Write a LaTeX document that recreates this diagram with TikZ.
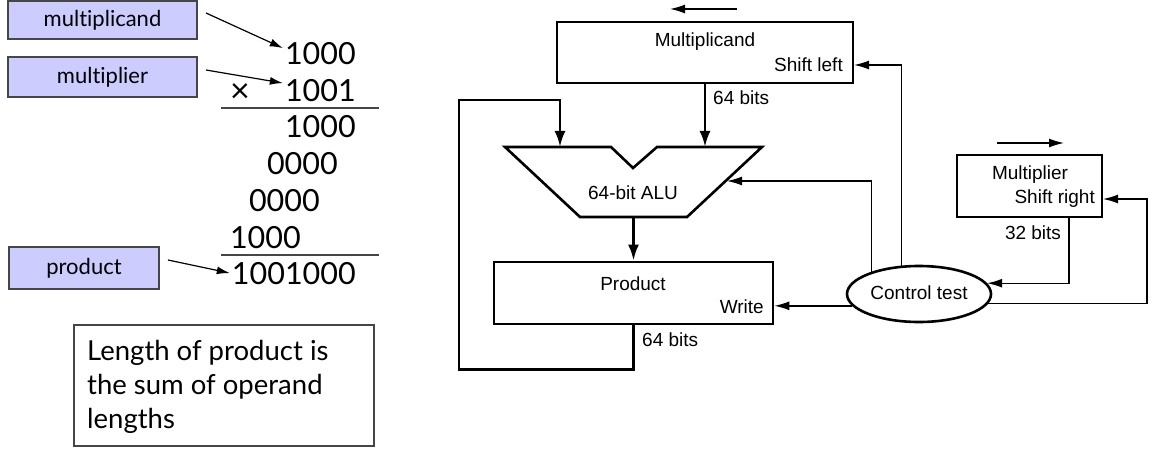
\documentclass[tikz,border=0pt]{standalone}
\usepackage{fontspec}
\setmainfont{Liberation Sans}
\newfontfamily\gill[Ligatures=NoCommon]{Lato}
\usetikzlibrary{arrows.meta,shapes.geometric}
\definecolor{lav}{RGB}{204,204,255}
\definecolor{lgray}{RGB}{70,70,70}
\begin{document}
\begin{tikzpicture}[x=1pt,y=-1pt,
  lbox/.style={draw=lgray,line width=1.4pt,fill=lav,inner sep=0pt,font=\gill\fontsize{22}{25}\selectfont},
  num/.style={inner sep=2pt,anchor=base east,font=\gill\fontsize{30.5}{34}\selectfont},
  larrow/.style={line width=1.2pt,-{Latex[length=13pt,width=8pt]}},
  notetxt/.style={inner sep=0pt,anchor=base west,font=\gill\fontsize{27.5}{34}\selectfont},
  reg/.style={draw,line width=2.7pt,inner sep=0pt},
  lbl/.style={inner sep=0pt,font=\fontsize{19}{22}\selectfont},
  data/.style={line width=2.8pt,-{Latex[length=16pt,width=11pt]}},
  ctrl/.style={line width=1.4pt,-{Latex[length=15pt,width=9pt]}}]
\useasboundingbox (0,0) rectangle (1155,457);

% ---------- left: paper multiplication ----------
\node[lbox,minimum width=189pt,minimum height=38pt] (lmc) at (102.5,20) {multiplicand};
\node[lbox,minimum width=189pt,minimum height=40pt] (lmp) at (102.5,77) {multiplier};
\node[lbox,minimum width=150pt,minimum height=42pt] (lpr) at (84,268) {product};

\node[num] (r1) at (358,65) {1000};
\node[num,anchor=base,font=\gill\fontsize{34}{34}\selectfont] (times) at (240,103) {×};
\node[num] (r2) at (358,102) {1001};
\node[num] (r3) at (358,138) {1000};
\node[num] (r4) at (340,175) {0000};
\node[num] (r5) at (322,211) {0000};
\node[num] (r6) at (303,248) {1000};
\node[num] (r7) at (358,284) {1001000};

\draw[lgray,line width=1.3pt] (221,108) -- (379,108);
\draw[lgray,line width=1.3pt] (221,255) -- (379,255);

\coordinate (s1) at (206,13);
\coordinate (s2) at (206,70);
\coordinate (s3) at (168,260);
\draw[larrow] (s1) -- ([yshift=6pt]r1.west);
\draw[larrow] (s2) -- ([yshift=8pt]r2.west);
\draw[larrow] (s3) -- (r7.west);

\node[draw=lgray,line width=1.2pt,minimum width=300pt,minimum height=121pt,inner sep=0pt] (note) at (224,385.5) {};
\node[notetxt] (t1) at (87,360) {Length of product is};
\node[notetxt] (t2) at (87,394) {the sum of operand};
\node[notetxt] (t3) at (87,428) {lengths};

% ---------- right: hardware ----------
\node[reg,minimum width=296pt,minimum height=61pt] (mcand) at (705,52.5) {};
\node[lbl] (mcandt) at (705,42) {Multiplicand};
\node[lbl,anchor=east] (mcands) at (843,65) {Shift left};
\coordinate (sl) at (854,65);

% ALU
\coordinate (aluA) at (505,147);
\coordinate (aluB) at (611,147);
\coordinate (aluN) at (633,168);
\coordinate (aluC) at (657,147);
\coordinate (aluD) at (762,147);
\coordinate (aluE) at (687,217);
\coordinate (aluF) at (580,217);
\draw[line width=2.6pt,line join=miter] (aluA) -- (aluB) -- (aluN) -- (aluC) -- (aluD) -- (aluE) -- (aluF) -- cycle;
\node[lbl] (alut) at (633,193) {64-bit ALU};
\coordinate (aluL) at (560,147);
\coordinate (aluR) at (727,181);
\coordinate (aluO) at (633.5,217);

\node[reg,minimum width=279pt,minimum height=62pt] (prod) at (633.5,293) {};
\node[lbl] (prodt) at (633,284) {Product};
\node[lbl,anchor=east] (prodw) at (764,307) {Write};

\node[reg,minimum width=145pt,minimum height=62pt] (mplier) at (1029.5,186) {};
\node[lbl] (mpliert) at (1030,175) {Multiplier};
\node[lbl,anchor=east] (mpliers) at (1095,199) {Shift right};
\coordinate (sr) at (1103,199);
\coordinate (m32) at (1069,217);

\node[draw,ellipse,line width=2.6pt,minimum width=144pt,minimum height=56pt,inner sep=0pt,fill=white] (ctl) at (919,294) {};
\node[lbl] (ctlt) at (919,293) {Control test};

% data paths
\draw[data] (mcand.south) -- (mcand.south |- aluL);
\node[lbl,anchor=west] (b64a) at (713,98) {64 bits};
\draw[data] (aluO) -- (prod.north);
\draw[data,line join=miter] (prod.south) -- ++(0,44) -| (459,100) -| (aluL);
\node[lbl,anchor=west] (b64b) at (642,340) {64 bits};
\node[lbl] (b32) at (1033,233) {32 bits};

% control paths
\draw[ctrl] (ctl.122) |- (sl);
\draw[ctrl] (ctl.155.7) |- (aluR);
\draw[ctrl] (ctl.190.5) -- (ctl.190.5 -| prod.east);
\draw[ctrl] (m32) |- (ctl.9.5);
\draw[ctrl] (ctl.-8.5) -| (1147,199) -- (sr);

% shift direction arrows
\draw[ctrl] (737,9) -- (670,9);
\draw[ctrl] (997,143) -- (1064,143);
\end{tikzpicture}
\end{document}
